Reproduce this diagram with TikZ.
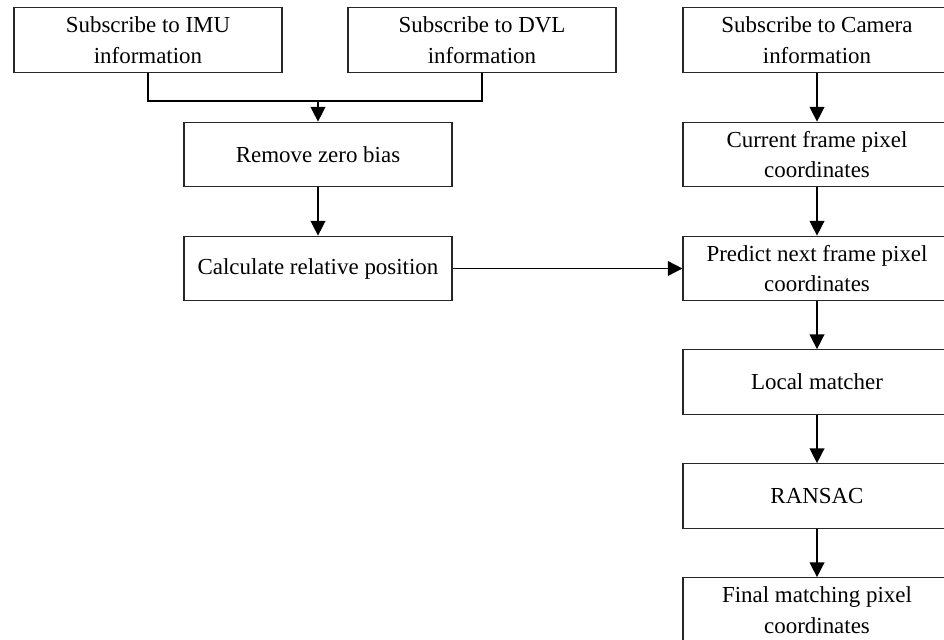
\documentclass[tikz,border=0pt]{standalone}
\usepackage{fontspec}
\setmainfont{Liberation Serif}
\usetikzlibrary{arrows.meta}
\begin{document}
\begin{tikzpicture}[x=0.75pt,y=-0.75pt,
  box/.style={draw=black!85, line width=0.8pt, minimum width=201pt, minimum height=48.5pt,
    align=center, inner sep=0pt, font=\fontsize{17.2}{23}\selectfont},
  conn/.style={draw=black, line width=1.1pt},
  arr/.style={conn, -{Triangle[length=11pt,width=11pt]}}]
\useasboundingbox (0,0) rectangle (944,639);
\clip (0,0) rectangle (944,639);
\node[box] (imu) at (148,40) {Subscribe to IMU\\information};
\node[box] (dvl) at (482,40) {Subscribe to DVL\\information};
\node[box] (cam) at (817,40) {Subscribe to Camera\\information};
\node[box] (zero) at (318,154.5) {Remove zero bias};
\node[box] (calc) at (318,268.5) {Calculate relative position};
\node[box] (cur) at (817,154.5) {Current frame pixel\\coordinates};
\node[box] (pred) at (817,268.5) {Predict next frame pixel\\coordinates};
\node[box] (loc) at (817,382) {Local matcher};
\node[box] (ran) at (817,496) {RANSAC};
\node[box] (fin) at (817,610) {Final matching pixel\\coordinates};
\coordinate (j) at (318,101);
\draw[conn] (imu.south) |- (j) -| (dvl.south);
\draw[arr] (j) -- (zero.north);
\draw[arr] (zero) -- (calc);
\draw[arr] (calc) -- (pred);
\draw[arr] (cam) -- (cur);
\draw[arr] (cur) -- (pred);
\draw[arr] (pred) -- (loc);
\draw[arr] (loc) -- (ran);
\draw[arr] (ran) -- (fin);
\end{tikzpicture}
\end{document}
